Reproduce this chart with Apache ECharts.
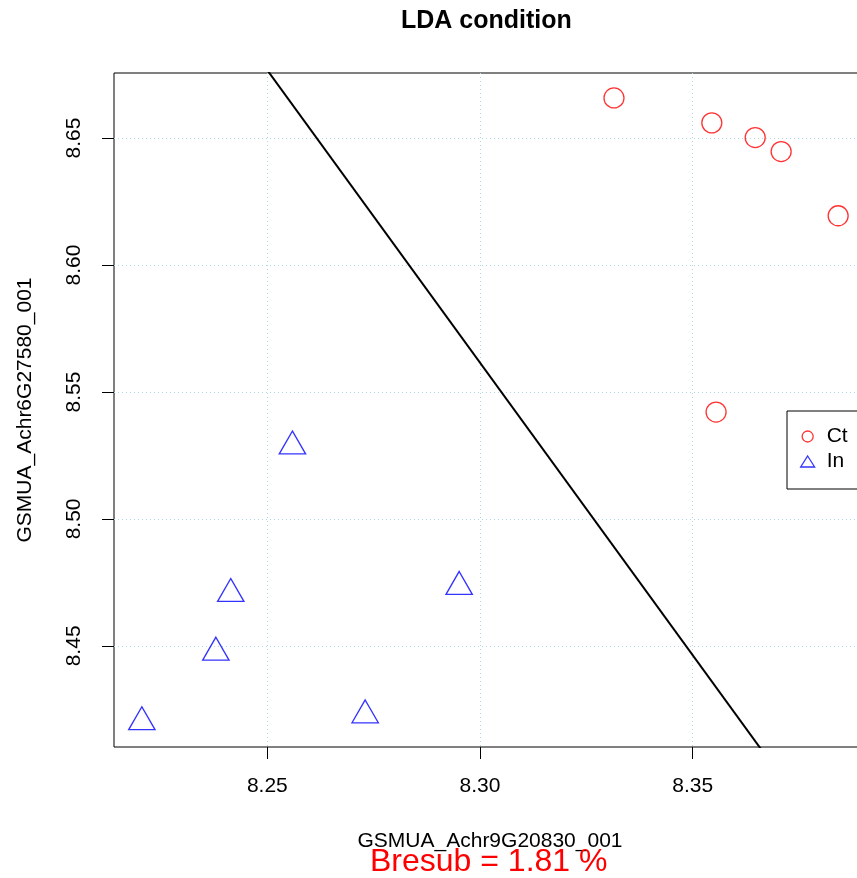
<!DOCTYPE html>
<html>
<head>
<meta charset="utf-8">
<title>LDA condition</title>
<script src="https://cdn.jsdelivr.net/npm/echarts@6/dist/echarts.min.js"></script>
<style>
  html, body { margin: 0; padding: 0; background: #ffffff; }
  #chart { width: 857px; height: 878px; }
</style>
</head>
<body>
<div id="chart"></div>
<script>
// Group "Ct" (control) samples
const ctX = [8.3315, 8.3545, 8.3647, 8.3708, 8.3842, 8.3555];
const ctY = [8.6658, 8.6560, 8.6502, 8.6447, 8.6194, 8.5421];

// Group "In" samples
const inX = [8.2205, 8.2379, 8.2414, 8.2559, 8.2730, 8.2951];
const inY = [8.4200, 8.4474, 8.4705, 8.5286, 8.4227, 8.4733];

// LDA decision boundary, two points on the separating line
const boundaryX = [8.2399, 8.3788];
const boundaryY = [8.7000, 8.3800];

// Tick positions
const xTicks = [8.25, 8.30, 8.35];
const yTicks = [8.45, 8.50, 8.55, 8.60, 8.65];

const errorText = 'Bresub = 1.81 %';

// Axis limits padded by 4% of the data range on each side
function paddedRange(values) {
  const lo = Math.min(...values), hi = Math.max(...values);
  const pad = (hi - lo) * 0.04;
  return [lo - pad, hi + pad];
}
const xRange = paddedRange(ctX.concat(inX));
const yRange = paddedRange(ctY.concat(inY));

const FONT = '"Liberation Sans", Arial, Helvetica, sans-serif';
const gridLine = { show: true, lineStyle: { color: '#add8e6', width: 1, type: [1, 3] } };

const chart = echarts.init(document.getElementById('chart'), null, { renderer: 'canvas' });

chart.setOption({
  backgroundColor: '#ffffff',
  animation: false,
  title: [
    {
      text: 'LDA condition',
      left: 401, top: 9, padding: 0,
      textStyle: { fontFamily: FONT, fontWeight: 'bold', fontSize: 25, color: '#000000' }
    },
    {
      text: errorText,
      left: 370, top: 846, padding: 0,
      textStyle: { fontFamily: FONT, fontWeight: 'normal', fontSize: 32, color: '#ff0000' }
    }
  ],
  legend: {
    orient: 'vertical',
    left: 787, top: 411,
    padding: [15, 24, 17, 13],
    itemWidth: 14, itemHeight: 11, itemGap: 4,
    borderColor: '#000000', borderWidth: 1,
    backgroundColor: '#ffffff',
    selectedMode: false,
    itemStyle: { borderWidth: 1.3 },
    textStyle: { fontFamily: FONT, fontSize: 21, color: '#000000', padding: [0, 0, 0, 7] },
    data: ['Ct', 'In']
  },
  grid: {
    left: 114, top: 73, width: 752, height: 674,
    outerBoundsMode: 'none',
    containLabel: false,
    show: true, borderColor: '#000000', borderWidth: 1, backgroundColor: '#ffffff'
  },
  xAxis: {
    type: 'value',
    min: xRange[0], max: xRange[1],
    name: 'GSMUA_Achr9G20830_001',
    nameLocation: 'middle', nameGap: 84,
    nameTextStyle: { fontFamily: FONT, fontSize: 21, color: '#000000' },
    axisLine: { show: false },
    axisTick: { show: true, inside: false, length: 12, customValues: xTicks, lineStyle: { color: '#000000', width: 1 } },
    axisLabel: {
      customValues: xTicks, margin: 29,
      fontFamily: FONT, fontSize: 21, color: '#000000',
      formatter: v => v.toFixed(2)
    },
    splitLine: gridLine
  },
  yAxis: {
    type: 'value',
    min: yRange[0], max: yRange[1],
    name: 'GSMUA_Achr6G27580_001',
    nameLocation: 'middle', nameGap: 78,
    nameTextStyle: { fontFamily: FONT, fontSize: 21, color: '#000000' },
    axisLine: { show: false },
    axisTick: { show: true, inside: false, length: 12, customValues: yTicks, lineStyle: { color: '#000000', width: 1 } },
    axisLabel: {
      customValues: yTicks, margin: 29, rotate: 90,
      fontFamily: FONT, fontSize: 21, color: '#000000',
      formatter: v => v.toFixed(2)
    },
    splitLine: gridLine
  },
  series: [
    {
      name: 'boundary',
      type: 'line',
      data: boundaryX.map((x, i) => [x, boundaryY[i]]),
      symbol: 'none',
      clip: true,
      silent: true,
      lineStyle: { color: '#000000', width: 2 },
      z: 3
    },
    {
      name: 'Ct',
      type: 'scatter',
      data: ctX.map((x, i) => [x, ctY[i]]),
      symbol: 'circle',
      symbolSize: 20,
      itemStyle: { color: 'rgba(255,255,255,0)', borderColor: '#ff0000', borderWidth: 1.3 },
      z: 4
    },
    {
      name: 'In',
      type: 'scatter',
      data: inX.map((x, i) => [x, inY[i]]),
      symbol: 'triangle',
      symbolSize: [26.4, 22.9],
      symbolOffset: [0, -3.8],
      itemStyle: { color: 'rgba(255,255,255,0)', borderColor: '#0000ff', borderWidth: 1.3 },
      z: 4
    }
  ]
});
</script>
</body>
</html>
